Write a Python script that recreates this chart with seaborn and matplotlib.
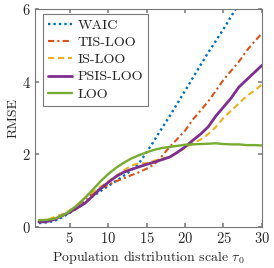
import matplotlib
matplotlib.use("Agg")
import matplotlib.pyplot as plt
import numpy as np
import pandas as pd
import seaborn as sns

# population scale tau_0
tau = list(range(1, 31))

waic = [0.10, 0.12, 0.16, 0.26, 0.38, 0.52, 0.68, 0.84, 0.98, 1.12, 1.26, 1.40, 1.55, 1.75,
        2.05, 2.38, 2.72, 3.05, 3.40, 3.75, 4.10, 4.45, 4.80, 5.12, 5.45, 5.80, 6.15, 6.50,
        6.85, 7.20]
tis = [0.15, 0.16, 0.20, 0.30, 0.42, 0.58, 0.76, 0.92, 1.05, 1.15, 1.25, 1.33, 1.42, 1.50,
       1.60, 1.72, 1.95, 2.20, 2.42, 2.65, 2.95, 3.20, 3.45, 3.75, 4.05, 4.30, 4.55, 4.85,
       5.10, 5.33]
is_loo = [0.15, 0.18, 0.27, 0.34, 0.45, 0.60, 0.80, 0.95, 1.10, 1.25, 1.40, 1.55, 1.68, 1.75,
          1.75, 1.82, 1.88, 1.92, 2.05, 2.17, 2.30, 2.40, 2.55, 2.75, 3.00, 3.20, 3.40, 3.60,
          3.75, 3.92]
psis = [0.13, 0.14, 0.20, 0.30, 0.40, 0.52, 0.65, 0.85, 1.05, 1.22, 1.38, 1.50, 1.58, 1.65,
        1.72, 1.78, 1.85, 1.92, 2.05, 2.20, 2.38, 2.55, 2.75, 3.05, 3.30, 3.55, 3.85, 4.05,
        4.25, 4.45]
loo = [0.18, 0.19, 0.22, 0.30, 0.43, 0.60, 0.80, 1.02, 1.25, 1.45, 1.62, 1.76, 1.88, 1.97,
       2.05, 2.12, 2.17, 2.20, 2.23, 2.26, 2.27, 2.28, 2.29, 2.30, 2.28, 2.27, 2.27, 2.25,
       2.25, 2.24]

names = ["WAIC", "TIS-LOO", "IS-LOO", "PSIS-LOO", "LOO"]
series = [waic, tis, is_loo, psis, loo]
colors = ["#0072BD", "#D95319", "#EDB120", "#7E2F8E", "#77AC30"]
styles = [(0, (1, 1.3)), (0, (3, 1.5, 1, 1.5)), (0, (3, 1.8)), "-", "-"]
widths = [1.7, 1.5, 1.5, 2.0, 1.7]

df = pd.DataFrame({
    "tau": tau * len(names),
    "rmse": sum(series, []),
    "method": sum([[n] * len(tau) for n in names], []),
})

sns.set_theme(style="ticks")
plt.rcParams["font.family"] = ["serif"]
plt.rcParams["font.serif"] = ["cmr10", "DejaVu Serif"]
plt.rcParams["mathtext.fontset"] = "cm"
plt.rcParams["axes.formatter.use_mathtext"] = True

fig = plt.figure(figsize=(2.74, 2.68), dpi=100)
ax = fig.add_axes([0.128, 0.154, 0.828, 0.812])

for n, c, ls, lw in zip(names, colors, styles, widths):
    sns.lineplot(data=df[df.method == n], x="tau", y="rmse", color=c, linestyle=ls,
                 linewidth=lw, label=n, ax=ax)

ax.set_xlim(0.5, 30)
ax.set_ylim(0, 6)
ax.set_xticks([5, 10, 15, 20, 25, 30])
ax.set_yticks([0, 2, 4, 6])
ax.tick_params(direction="in", top=True, right=True, labelsize=10.5, length=3,
               color="#888888", pad=3)
for s in ax.spines.values():
    s.set_color("#777777")
    s.set_linewidth(0.8)
ax.set_xlabel(r"Population distribution scale $\tau_0$", fontsize=10, labelpad=2)
ax.set_ylabel("RMSE", fontsize=10, labelpad=2)

leg = ax.legend(loc="upper left", fontsize=10.2, frameon=True, fancybox=False,
                handlelength=1.7, handletextpad=0.4, borderpad=0.35, labelspacing=0.3,
                borderaxespad=0, bbox_to_anchor=(0.035, 0.977))
leg.get_frame().set_edgecolor("#555555")
leg.get_frame().set_linewidth(0.8)

fig.savefig("out.png", dpi=100)
